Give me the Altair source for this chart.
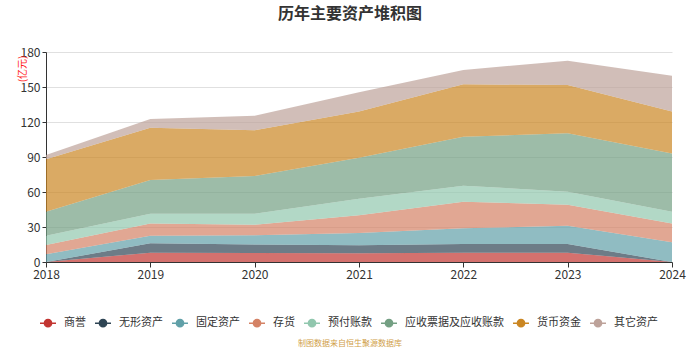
import altair as alt
import pandas as pd

years = [2018, 2019, 2020, 2021, 2022, 2023, 2024]
series_names = ["商誉", "无形资产", "固定资产", "存货", "预付账款", "应收票据及应收账款", "货币资金", "其它资产"]
colors = ["#c23531", "#2f4554", "#61a0a8", "#d48265", "#91c7ae", "#749f83", "#ca8622", "#bda29a"]

goodwill = [0.0, 8.0, 7.7, 7.4, 8.0, 8.0, 0.0]
intangible = [0.0, 8.0, 7.2, 6.9, 7.4, 7.4, 0.0]
fixed_assets = [6.6, 6.6, 8.0, 10.6, 13.5, 15.7, 16.9]
inventory = [8.0, 10.5, 9.1, 15.1, 22.8, 18.0, 16.2]
prepayments = [8.0, 8.3, 9.4, 14.3, 13.7, 11.2, 10.0]
receivables = [20.4, 28.9, 32.3, 35.1, 42.0, 50.0, 50.0]
cash = [45.0, 44.8, 39.3, 39.5, 44.9, 41.4, 35.8]
other_assets = [3.7, 7.5, 12.4, 16.5, 12.3, 20.9, 30.8]

y_ticks = [0, 30, 60, 90, 120, 150, 180]
source_text = "制图数据来自恒生聚源数据库"
FONT = "Noto Sans CJK SC"

all_series = [goodwill, intangible, fixed_assets, inventory, prepayments, receivables, cash, other_assets]
rows = []
for i, (name, vals) in enumerate(zip(series_names, all_series)):
    for yr, v in zip(years, vals):
        rows.append({"year": yr, "series": name, "value": v, "order": i})
df = pd.DataFrame(rows)

legend_path = "M-1,0L1,0M-0.45,0A0.45,0.45 0 1,1 0.45,0A0.45,0.45 0 1,1 -0.45,0Z"
cscale = alt.Scale(domain=series_names, range=colors)
leg = alt.Legend(title=None, orient="none", direction="horizontal",
                 legendX=-7, legendY=262,
                 symbolType=legend_path, symbolSize=256,
                 symbolStrokeWidth=1.5, symbolOpacity=1,
                 labelFont=FONT, labelFontSize=11, labelColor="#333333",
                 labelOffset=7, columnPadding=6)

area = alt.Chart(df).mark_area(opacity=0.7, interpolate="linear", strokeWidth=0).encode(
    x=alt.X("year:Q",
            scale=alt.Scale(domain=[2018, 2024], nice=False, zero=False),
            axis=alt.Axis(values=years, format="d", title=None, grid=False,
                          domainColor="#333333", tickColor="#333333", tickSize=5,
                          labelColor="#333333", labelFontSize=12, labelFont=FONT,
                          labelPadding=2, labelFlush=False)),
    y=alt.Y("value:Q", stack="zero",
            scale=alt.Scale(domain=[0, 180], nice=False),
            axis=alt.Axis(values=y_ticks, title="(亿元)", titleColor="#ff1a1a",
                          titleFontSize=10, titleFontWeight="normal", titleFont=FONT,
                          titleX=-24, titleY=3, titleAlign="right", titleBaseline="middle",
                          titleAngle=270,
                          domainColor="#333333", tickColor="#333333", tickSize=4,
                          labelColor="#333333", labelFontSize=12, labelFont=FONT,
                          labelPadding=2, gridColor="#e0e0e0", gridWidth=1)),
    color=alt.Color("series:N", scale=cscale, legend=leg),
    stroke=alt.Stroke("series:N", scale=cscale, legend=leg),
    order=alt.Order("order:Q", sort="ascending"),
)

source = alt.Chart(pd.DataFrame({"t": [source_text]})).mark_text(
    font=FONT, fontSize=8, color="#d0a048", align="center", baseline="middle"
).encode(x=alt.value(304), y=alt.value(292), text="t:N")

chart = alt.layer(area, source).properties(
    width=626, height=210,
    title=alt.TitleParams("历年主要资产堆积图", fontSize=16, fontWeight="bold", font=FONT,
                          color="#333333", anchor="middle", dx=-9, offset=24),
    autosize=alt.AutoSizeParams(type="none"),
    padding={"left": 46, "top": 52, "right": 28, "bottom": 88},
).configure_view(stroke=None)

chart.save("out.html", embed_options={"renderer": "svg", "actions": False})
